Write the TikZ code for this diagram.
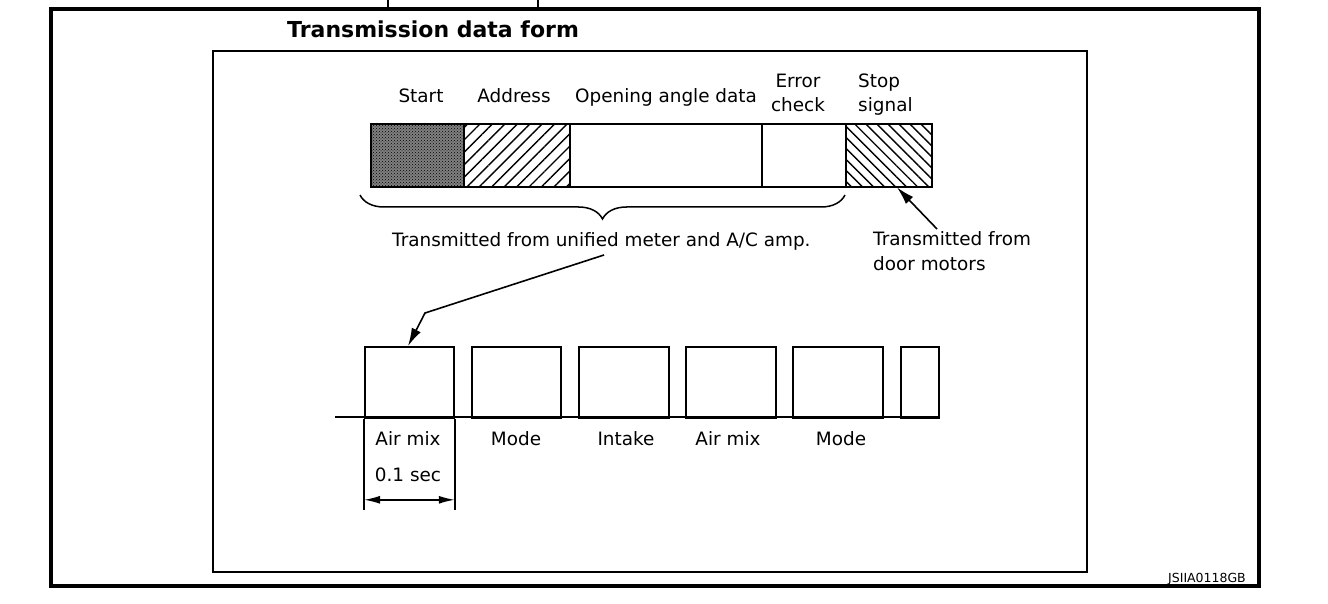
\documentclass[tikz,border=0pt]{standalone}
\usepackage{fontspec}
\setmainfont{DejaVu Sans}
\usetikzlibrary{patterns,patterns.meta,decorations.pathreplacing,arrows.meta}
\begin{document}
\begin{tikzpicture}[x=1pt,y=-1pt,
  lbl/.style={font=\fontsize{18.4}{25}\selectfont, inner sep=0pt},
  seg/.style={draw, line width=1.8pt, inner sep=0pt, anchor=north west, minimum height=63},
  pulse/.style={draw, line width=1.8pt, inner sep=0pt, anchor=north west, minimum height=71},
  ptr/.style={line width=1.6pt, -{Latex[length=18pt,width=10pt]}},
  dim/.style={line width=1.6pt, {Latex[length=16pt,width=8pt]}-{Latex[length=16pt,width=8pt]}},
]
\useasboundingbox (0,0) rectangle (1328,604);
% frames
\draw[line width=4pt] (50.5,9) rectangle (1259,586);
\draw[line width=1.5pt] (388,0) -- (388,7) (538,0) -- (538,7);
\draw[line width=2pt] (213,51) rectangle (1087,572);
\node[font=\bfseries\fontsize{22}{26}\selectfont, anchor=base west, inner sep=0pt] (title) at (287,38) {Transmission data form};

% data frame segments
\node[seg, minimum width=93, preaction={fill=black!50}, pattern=crosshatch dots] (start) at (370,123) {};
\node[seg, minimum width=106, pattern={Lines[angle=45,distance=8.8pt,line width=1.4pt]}] (addr) at (463,123) {};
\node[seg, minimum width=192] (open) at (569,123) {};
\node[seg, minimum width=84] (err) at (761,123) {};
\node[seg, minimum width=86, pattern={Lines[angle=-45,distance=7.8pt,line width=1.4pt]}] (stop) at (845,123) {};

\node[lbl, anchor=base] (lstart) at (421,103) {Start};
\node[lbl, anchor=base] (laddr) at (514,103) {Address};
\node[lbl, anchor=base] (lopen) at (666,103) {Opening angle data};
\node[lbl, anchor=base] (lerr1) at (798,88) {Error};
\node[lbl, anchor=base] (lerr2) at (798,112) {check};
\node[lbl, anchor=base west] (lstop1) at (858,88) {Stop};
\node[lbl, anchor=base west] (lstop2) at (858,112) {signal};

% brace
\coordinate (bl) at (360,195);
\coordinate (br) at (845,195);
\draw[line width=1.5pt, decorate, decoration={brace, mirror, amplitude=24pt, aspect=0.5}] (bl) -- (br);

\node[lbl, anchor=base west] (tx1) at (392,247) {Transmitted from unified meter and A/C amp.};
\node[lbl, anchor=base west] (tx2a) at (873,246) {Transmitted from};
\node[lbl, anchor=base west] (tx2b) at (873,270) {door motors};

% pulse train
\coordinate (b0) at (335,417);
\coordinate (b1) at (938,417);
\draw[line width=1.8pt] (b0) -- (b1);
\node[pulse, minimum width=89] (p1) at (364,346) {};
\node[pulse, minimum width=89] (p2) at (471,346) {};
\node[pulse, minimum width=90] (p3) at (578,346) {};
\node[pulse, minimum width=90] (p4) at (685,346) {};
\node[pulse, minimum width=90] (p5) at (792,346) {};
\node[pulse, minimum width=38] (p6) at (900,346) {};

% arrows
\coordinate (a0) at (604,255);
\coordinate (a1) at (425,313);
\draw[ptr] (a0) -- (a1) -- (p1.north -| 408,0);
\coordinate (d0) at (937,229);
\draw[ptr] (d0) -- (stop.south -| 897,0);

\node[lbl, anchor=base] (w1) at (408,445) {Air mix};
\node[lbl, anchor=base] (w2) at (516,445) {Mode};
\node[lbl, anchor=base] (w3) at (626,445) {Intake};
\node[lbl, anchor=base] (w4) at (728,445) {Air mix};
\node[lbl, anchor=base] (w5) at (841,445) {Mode};
\node[lbl, anchor=base] (w6) at (408,481) {0.1 sec};

\draw[line width=1.8pt] (p1.south west) -- ++(0,91);
\draw[line width=1.8pt] (p1.south east) -- ++(0,91);
\draw[dim] ([yshift=-81pt]p1.south west) -- ([yshift=-81pt]p1.south east);

\node[font=\fontsize{12.5}{14}\selectfont, anchor=base east, inner sep=0pt] (code) at (1246,582) {JSIIA0118GB};
\end{tikzpicture}
\end{document}
